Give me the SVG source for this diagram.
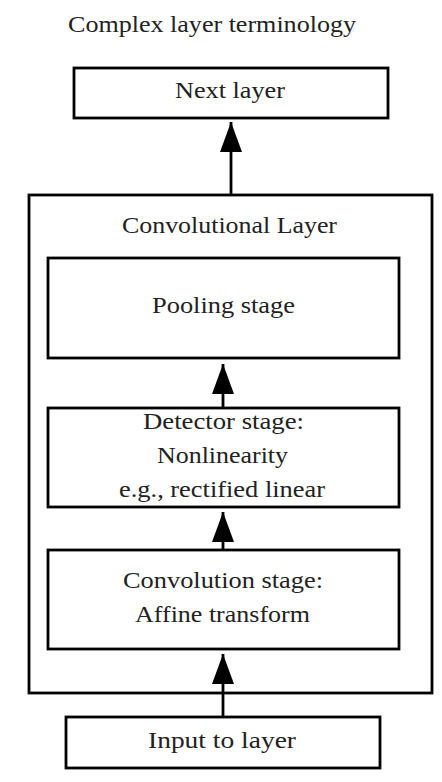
<svg xmlns="http://www.w3.org/2000/svg" width="442" height="782" viewBox="0 0 442 782">
<defs>
<style>
.box{fill:none;stroke:#000;stroke-width:2.8}
.t{font-family:"Liberation Serif","DejaVu Serif",serif;font-size:24px;fill:#222;text-anchor:middle}
.c{stroke:#000;stroke-width:2.8;fill:none}
</style>
<marker id="ah" markerUnits="userSpaceOnUse" markerWidth="30" markerHeight="22" refX="30" refY="11" orient="auto" viewBox="0 0 30 22">
<path d="M0,0 L30,11 L0,22 Z" fill="#000"/>
</marker>
</defs>
<rect width="442" height="782" fill="#fff"/>
<text class="t" x="212" y="32" textLength="288" lengthAdjust="spacingAndGlyphs">Complex layer terminology</text>
<g id="next">
<rect class="box" x="74" y="68" width="314" height="50"/>
<text class="t" x="230" y="98" textLength="110" lengthAdjust="spacingAndGlyphs">Next layer</text>
</g>
<g id="conv-layer">
<rect class="box" x="29" y="195" width="403" height="498"/>
<text class="t" x="229.5" y="233" textLength="215" lengthAdjust="spacingAndGlyphs">Convolutional Layer</text>
</g>
<g id="pooling">
<rect class="box" x="48" y="258" width="351" height="100"/>
<text class="t" x="223.5" y="313" textLength="143" lengthAdjust="spacingAndGlyphs">Pooling stage</text>
</g>
<g id="detector">
<rect class="box" x="48" y="408" width="351" height="99"/>
<text class="t" x="223.5" y="429" textLength="161" lengthAdjust="spacingAndGlyphs">Detector stage:</text>
<text class="t" x="222.5" y="463" textLength="131" lengthAdjust="spacingAndGlyphs">Nonlinearity</text>
<text class="t" x="222" y="497" textLength="206" lengthAdjust="spacingAndGlyphs">e.g., rectified linear</text>
</g>
<g id="convolution">
<rect class="box" x="48" y="550" width="351" height="99"/>
<text class="t" x="223" y="588" textLength="200" lengthAdjust="spacingAndGlyphs">Convolution stage:</text>
<text class="t" x="222.5" y="622" textLength="175" lengthAdjust="spacingAndGlyphs">Affine transform</text>
</g>
<g id="input">
<rect class="box" x="66" y="717" width="314" height="51"/>
<text class="t" x="222" y="748" textLength="148" lengthAdjust="spacingAndGlyphs">Input to layer</text>
</g>
<g id="connectors">
<line class="c" x1="231" y1="195" x2="231" y2="122" marker-end="url(#ah)"/>
<line class="c" x1="223" y1="408" x2="223" y2="364" marker-end="url(#ah)"/>
<line class="c" x1="223" y1="550" x2="223" y2="512" marker-end="url(#ah)"/>
<line class="c" x1="223" y1="717" x2="223" y2="654" marker-end="url(#ah)"/>
</g>
</svg>
